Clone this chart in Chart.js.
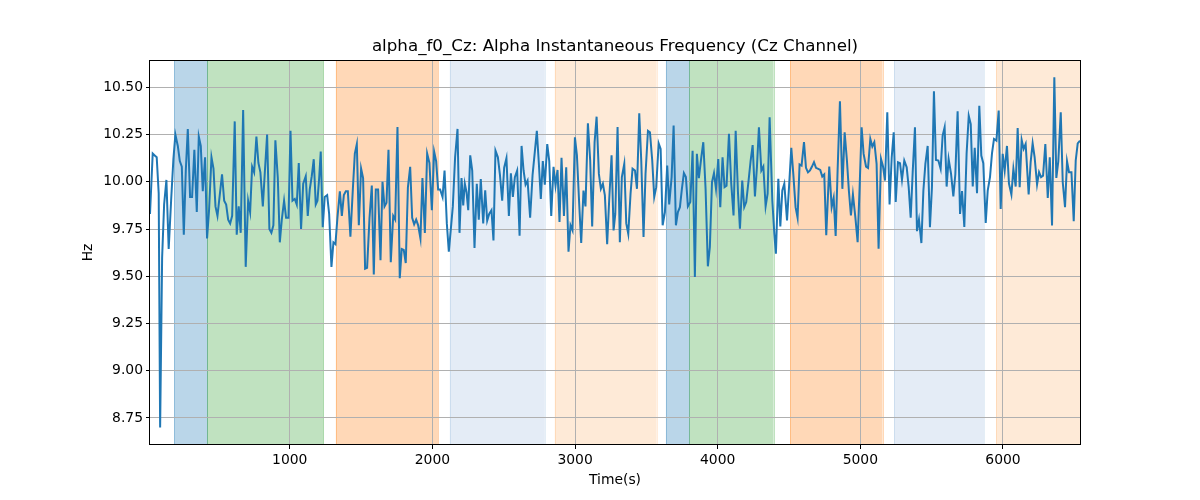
<!DOCTYPE html>
<html>
<head>
<meta charset="utf-8">
<script src="https://cdn.jsdelivr.net/npm/chart.js@4/dist/chart.umd.min.js"></script>
<style>
  body { margin: 0; background: #fff; }
  #wrap { width: 1200px; height: 500px; }
</style>
</head>
<body>
<div id="wrap"><canvas id="alphaChart" width="1200" height="500"></canvas></div>
<script>
// time stamps (s) and alpha peak frequency (Hz)
let times = [
  20,39,53,67,81,91,105,119,135,151,168,184,198,215,229,243,257,271,285,301,
  315,331,348,362,376,390,406,420,434,451,465,479,493,509,525,540,554,568,582,596,
  614,628,642,656,673,691,708,722,736,750,766,780,794,811,825,841,857,871,885,899,
  916,930,944,960,974,991,1005,1019,1035,1049,1063,1079,1094,
  1112,1126,1140,1154,1168,1182,1194,1206,1217,1231,1245,1262,1276,1292,1306,1320,1334,1351,1365,1379,
  1393,1407,1425,1442,1456,1470,1484,1500,1514,1528,1542,1559,1575,1589,1603,1619,1636,1650,1664,1678,
  1692,1708,1725,1739,1755,1771,1785,1799,1813,1828,1844,1858,1872,1886,1900,1916,1930,1947,1963,1979,
  1996,2012,2026,2040,2054,2071,2085,2101,2115,2129,2143,2159,2176,2190,
  2204,2216,2227,2239,2251,2265,2279,2295,2311,2325,2339,2356,2370,2384,2398,2414,2428,2442,2459,2473,
  2489,2503,2519,2536,2550,2564,2578,2594,2611,2625,2639,2653,2667,2685,2702,2718,2732,2746,2760,2774,
  2788,2805,2819,2833,2849,2863,2877,2891,2905,2922,2938,2954,2968,2982,2999,3013,3029,3043,3059,3073,
  3090,3106,3120,3137,3151,3167,3181,3195,3209,3225,3239,3256,3270,
  3282,3298,3314,3328,3345,3359,3373,3389,3403,3420,3434,3450,3464,3480,3494,3511,3525,3541,3555,3569,
  3586,3600,3614,3630,3646,3660,3677,3691,3707,3721,3735,3749,3763,3777,3791,3808,3824,3840,3854,3868,
  3885,3899,3915,3931,3945,3960,3974,3988,4004,4018,4034,4048,4062,4079,4095,4111,4126,4142,4156,4172,
  4186,4200,4217,4231,4245,4261,4275,4289,4306,4320,4336,4350,4364,
  4383,4397,4408,4425,4439,4453,4467,4486,4500,4516,4530,4546,4560,4574,4588,4605,4619,4633,4647,4661,
  4675,4689,4705,4719,4733,4747,4761,4782,4799,4813,4827,4841,4857,4874,4890,4906,4920,4934,4948,4965,
  4981,4995,5009,5023,5040,5054,5070,5084,5098,5114,5128,5145,5159,5173,5189,5205,5220,5234,5248,5264,
  5278,5292,5308,5325,5339,5353,5367,5383,5397,5411,5428,5442,
  5456,5472,5488,5502,5516,5530,5547,5563,5577,5591,5605,5619,5636,5652,5666,5682,5699,5713,5729,5745,
  5760,5774,5788,5802,5818,5834,5848,5862,5879,5893,5909,5923,5937,5954,5970,5984,5998,6012,6028,6042,
  6059,6073,6089,6103,6117,6131,6145,6159,6180,6194,6208,6222,6239,6253,6267,6281,6297,6314,6328,6344,
  6360,6374,6388,6405,6419,6435,6449,6463,6480,6496,6510,6524,6540
]

let alphaHz = [
  9.83,10.15,10.14,10.13,9.94,8.70,9.60,9.88,10.01,9.645,9.90,10.12,10.25,10.19,10.11,10.08,9.72,10.06,10.28,9.92,
  9.92,10.17,9.84,10.24,10.19,9.95,10.13,9.70,9.85,10.13,10.07,9.87,9.82,9.93,10.04,9.90,9.88,9.80,9.78,9.82,
  10.32,9.72,9.87,9.73,10.38,9.55,9.90,9.84,10.08,10.05,10.24,10.10,10.05,9.87,10.05,10.25,9.75,9.73,9.77,10.22,
  10.02,9.68,9.80,9.90,9.81,9.81,10.27,9.90,9.91,9.88,10.10,9.75,9.99,
  10.03,9.82,9.96,10.03,10.12,9.88,9.90,10.02,10.16,9.76,9.92,9.93,9.83,9.55,9.68,9.67,9.81,9.95,9.82,9.93,
  9.95,9.95,9.71,9.96,10.15,10.20,9.77,10.07,10.02,9.54,9.545,9.81,9.98,9.51,9.96,9.96,9.585,10.00,9.87,9.89,
  10.17,9.575,9.82,9.80,10.29,9.49,9.645,9.64,9.57,9.97,10.08,9.81,9.775,9.80,9.77,9.70,10.02,9.73,10.15,10.10,
  9.85,10.16,10.11,9.96,9.96,9.92,10.06,9.78,9.63,9.75,9.87,10.13,10.28,9.73,
  10.02,9.875,9.99,9.945,9.85,10.14,10.06,9.65,9.99,9.80,10.015,9.78,9.955,9.795,9.83,9.85,9.69,10.165,10.13,10.04,
  9.90,10.075,10.125,9.82,10.045,9.92,10.025,10.06,9.715,10.19,10.06,9.985,10.007,9.81,10.035,10.16,10.27,10.10,9.91,10.11,
  9.985,10.20,10.11,9.82,10.08,9.98,10.063,9.787,10.127,9.82,10.077,9.63,9.77,9.743,10.236,10.14,9.884,9.676,9.954,9.87,
  10.31,10.113,9.764,10.21,10.345,10.042,9.963,9.99,9.928,9.67,9.90,10.14,9.743,
  9.83,10.29,9.68,10.025,10.095,9.78,9.725,9.937,10.07,10.06,9.963,10.363,10.113,9.708,10.042,10.27,10.262,10.113,9.92,9.972,
  10.204,10.174,9.77,9.84,10.086,9.88,10.025,10.298,9.77,9.84,9.866,9.963,10.046,10.025,9.87,9.893,10.165,9.496,10.148,10.02,
  10.13,10.21,9.963,9.553,9.655,9.998,10.046,9.963,10.121,9.866,10.13,9.972,9.98,10.254,9.99,9.822,10.27,9.945,9.752,10.007,
  9.866,9.893,10.01,10.113,10.195,9.923,10.077,10.289,10.06,10.081,9.87,9.937,10.342,
  9.90,9.725,9.62,10.016,9.764,9.954,9.99,9.796,9.972,10.18,10.042,9.866,9.81,10.092,10.086,10.21,10.074,10.05,10.06,10.081,
  10.104,10.074,10.069,10.063,10.028,10.039,9.717,10.081,9.866,9.915,9.713,10.07,10.426,9.963,10.262,10.113,9.95,9.822,9.933,9.813,
  9.681,9.972,10.289,10.148,10.081,10.074,10.227,10.187,10.21,10.095,9.646,10.121,10.081,10.007,10.368,9.88,10.13,10.262,9.893,10.104,
  10.099,10.011,10.113,10.077,9.972,9.81,10.05,10.289,9.739,9.80,9.676,9.954,
  10.095,10.19,9.76,9.97,10.479,10.116,10.113,10.069,10.245,10.289,9.975,10.121,10.042,9.923,10.04,10.373,9.83,9.951,9.761,10.15,
  10.35,10.306,9.975,10.18,9.94,10.403,10.139,10.099,9.782,9.954,10.025,10.151,10.227,10.218,10.377,9.857,10.148,10.06,10.19,9.99,
  9.933,10.069,9.975,10.285,9.972,10.222,10.174,10.20,9.933,10.104,10.204,10.13,9.986,10.051,10.025,10.033,10.20,9.915,10.13,9.769,
  10.553,10.021,10.11,10.368,9.998,9.866,10.109,10.051,10.051,9.792,10.113,10.204,10.218
]

// shaded task blocks: start / end (s) and which kind of block it is
let blockStart = [189, 420, 1323, 2122, 2858, 3637, 3801, 4507, 5236, 5951]
let blockEnd   = [420, 1236, 2040, 2788, 3572, 3801, 4392, 5156, 5867, 6560]
let blockKind  = [0, 1, 2, 3, 4, 0, 1, 2, 3, 4]

let xTicks = [1000, 2000, 3000, 4000, 5000, 6000]
let yTicks = [8.75, 9.00, 9.25, 9.50, 9.75, 10.00, 10.25, 10.50]

// colours for each block kind: fill pre-blended on white, edge drawn translucent on top
let blockColors = ['#bad6e9', '#c0e2c0', '#ffd8b7', '#e4ecf6', '#feead7']
let blockEdges = ['rgba(31,119,180,0.3)', 'rgba(44,160,44,0.3)', 'rgba(255,127,14,0.3)',
                  'rgba(31,119,180,0.12)', 'rgba(255,127,14,0.15)']

let font = '"DejaVu Sans", sans-serif'

let blocksPlugin = {
    id: 'blocks',
    beforeDraw(chart) {
        let ctx = chart.ctx
        let area = chart.chartArea
        let xs = chart.scales.x
        ctx.save()
        ctx.fillStyle = '#fff'
        ctx.fillRect(0, 0, chart.width, chart.height)
        ctx.beginPath()
        ctx.rect(area.left, area.top, area.right - area.left, area.bottom - area.top)
        ctx.clip()
        for (let i = 0; i < blockStart.length; i++) {
            let x1 = xs.getPixelForValue(blockStart[i])
            let x2 = xs.getPixelForValue(blockEnd[i])
            ctx.fillStyle = blockColors[blockKind[i]]
            ctx.fillRect(x1, area.top, x2 - x1, area.bottom - area.top)
        }
        // thin translucent edges like matplotlib's axvspan outline
        ctx.lineWidth = 1
        for (let i = 0; i < blockStart.length; i++) {
            ctx.strokeStyle = blockEdges[blockKind[i]]
            for (let x of [blockStart[i], blockEnd[i]]) {
                let px = Math.round(xs.getPixelForValue(x)) + 0.5
                ctx.beginPath()
                ctx.moveTo(px, area.top)
                ctx.lineTo(px, area.bottom)
                ctx.stroke()
            }
        }
        ctx.restore()
    }
}

let framePlugin = {
    id: 'frame',
    afterDraw(chart) {
        let ctx = chart.ctx
        let a = chart.chartArea
        ctx.save()
        ctx.strokeStyle = '#000'
        ctx.lineWidth = 1
        ctx.strokeRect(Math.round(a.left) - 0.5, Math.round(a.top) + 0.5,
                       Math.round(a.right - a.left) + 1, Math.round(a.bottom - a.top) - 1)

        ctx.fillStyle = '#000'
        ctx.textAlign = 'center'
        let cx = (a.left + a.right) / 2
        // title
        ctx.font = '16.7px ' + font
        ctx.textBaseline = 'alphabetic'
        ctx.fillText('alpha_f0_Cz: Alpha Instantaneous Frequency (Cz Channel)', cx, a.top - 9)
        // axis labels
        ctx.font = '13.9px ' + font
        ctx.textBaseline = 'top'
        ctx.fillText('Time(s)', cx, a.bottom + 28)
        ctx.translate(88, (a.top + a.bottom) / 2)
        ctx.rotate(-Math.PI / 2)
        ctx.textBaseline = 'middle'
        ctx.fillText('Hz', 0, 0)
        ctx.restore()
    }
}

let ctx = document.querySelector('#alphaChart').getContext('2d')

let alphaChart = new Chart(ctx, {
    type: 'line',
    data: {
        datasets: [{
            data: times.map((t, i) => ({ x: t, y: alphaHz[i] })),
            borderColor: '#1f77b4',
            borderWidth: 2,
            pointRadius: 0,
            tension: 0,
            fill: false
        }]
    },
    options: {
        responsive: false,
        animation: false,
        devicePixelRatio: 1,
        layout: { padding: { left: 90, right: 120, top: 60, bottom: 25 } },
        plugins: {
            legend: { display: false },
            tooltip: { enabled: false },
            title: { display: false }
        },
        scales: {
            x: {
                type: 'linear',
                min: 20,
                max: 6540,
                afterBuildTicks: scale => { scale.ticks = xTicks.map(v => ({ value: v })) },
                afterFit: scale => { scale.height = 30 },
                grid: { color: '#b0b0b0', lineWidth: 1, tickColor: '#000', tickLength: 4 },
                border: { display: false },
                ticks: {
                    color: '#000',
                    padding: 3,
                    maxRotation: 0,
                    font: { family: font, size: 13.9 },
                    callback: v => String(v)
                }
            },
            y: {
                min: 8.607,
                max: 10.645,
                afterBuildTicks: scale => { scale.ticks = yTicks.map(v => ({ value: v })) },
                afterFit: scale => { scale.width = 60 },
                grid: { color: '#b0b0b0', lineWidth: 1, tickColor: '#000', tickLength: 4 },
                border: { display: false },
                ticks: {
                    color: '#000',
                    padding: 3,
                    font: { family: font, size: 13.9 },
                    callback: v => v.toFixed(2)
                }
            }
        }
    },
    plugins: [blocksPlugin, framePlugin]
})
</script>
</body>
</html>
